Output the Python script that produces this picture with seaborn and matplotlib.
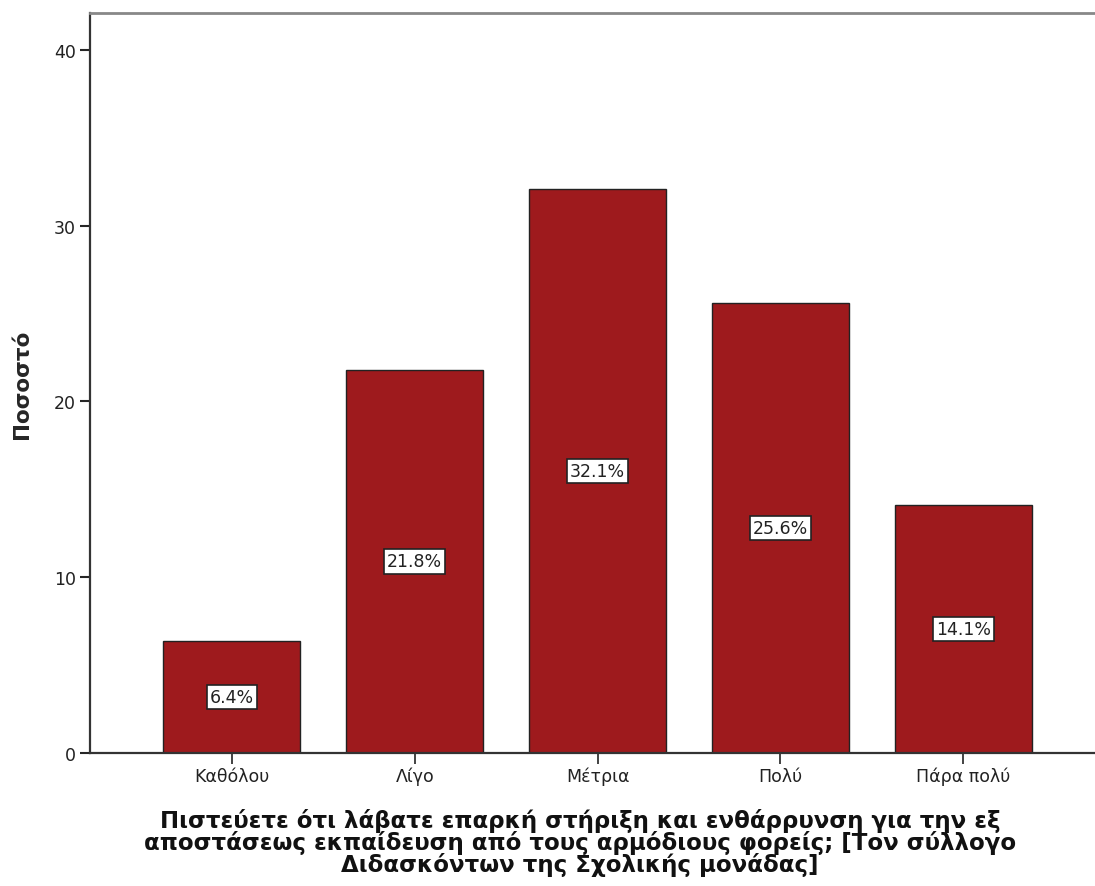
import matplotlib
matplotlib.use("Agg")
import matplotlib.pyplot as plt
import seaborn as sns
import pandas as pd

categories = ["Καθόλου", "Λίγο", "Μέτρια", "Πολύ", "Πάρα πολύ"]
values = [6.4, 21.8, 32.1, 25.6, 14.1]
labels = ["6.4%", "21.8%", "32.1%", "25.6%", "14.1%"]
yticks = [0, 10, 20, 30, 40]

sns.set_style("white")
plt.rcParams['font.family'] = ['DejaVu Sans']

df = pd.DataFrame({"cat": categories, "val": values})

fig = plt.figure(figsize=(10.95, 8.87), dpi=100)
ax = fig.add_axes([90/1095, 133/887, 1 - 90/1095, (754-14)/887])

sns.barplot(data=df, x="cat", y="val", ax=ax, color="#9E1A1D", saturation=1,
            width=0.75, edgecolor="#222222", linewidth=1.0)

for i, (v, lab) in enumerate(zip(values, labels)):
    ax.text(i, v / 2, lab, ha="center", va="center", fontsize=12.5, color="#222222",
            bbox=dict(boxstyle="square,pad=0.18", facecolor="white", edgecolor="#222222", linewidth=1.2))

ax.set_xlim(-0.776, 4.72)
ax.set_ylim(0, 42.1)
ax.set_yticks(yticks)
ax.set_yticklabels([str(t) for t in yticks], fontsize=12.5, color="#222222")
ax.tick_params(axis="x", labelsize=12.5, colors="#222222", length=8, width=1.2, direction="out", bottom=True, pad=2)
ax.tick_params(axis="y", length=7, width=1.5, direction="out", left=True, pad=3)

for s in ["left", "bottom"]:
    ax.spines[s].set_color("#333333")
    ax.spines[s].set_linewidth(1.6)
ax.spines["top"].set_color("#888888")
ax.spines["top"].set_linewidth(2)
ax.spines["right"].set_visible(False)

ax.set_ylabel("Ποσοστό", fontsize=15.5, fontweight="bold")
ax.yaxis.set_label_coords(-58/1005, 0.5)
ax.set_xlabel("Πιστεύετε ότι λάβατε επαρκή στήριξη και ενθάρρυνση για την εξ\n"
              "αποστάσεως εκπαίδευση από τους αρμόδιους φορείς; [Τον σύλλογο\n"
              "Διδασκόντων της Σχολικής μονάδας]",
              fontsize=16.5, fontweight="bold", linespacing=0.88, color="#111111")
ax.xaxis.set_label_coords((580-90)/(1095-90), -0.075)

fig.savefig("out.png", dpi=100)
